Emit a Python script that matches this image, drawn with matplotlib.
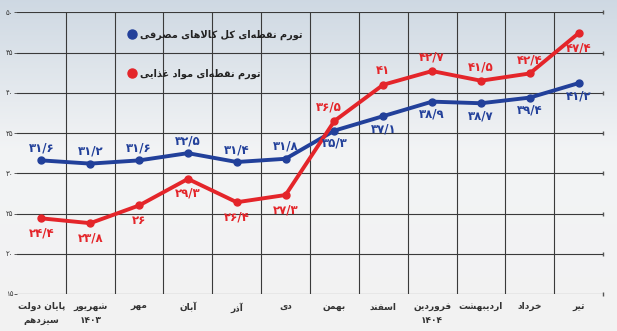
import numpy as np
import matplotlib.pyplot as plt
from matplotlib.lines import Line2D

# ---- data ----
months = ['پایان دولت\nسیزدهم', 'شهریور\n۱۴۰۳', 'مهر', 'آبان', 'آذر', 'دی',
          'بهمن', 'اسفند', 'فروردین\n۱۴۰۴', 'اردیبهشت', 'خرداد', 'تیر']
total_cpi = [31.6, 31.2, 31.6, 32.5, 31.4, 31.8, 35.3, 37.1, 38.9, 38.7, 39.4, 41.2]
food_cpi = [24.4, 23.8, 26.0, 29.3, 26.4, 27.3, 36.5, 41.0, 42.7, 41.5, 42.4, 47.4]
yticks = [15, 20, 25, 30, 35, 40, 45, 50]
legend_total = 'تورم نقطه‌ای کل کالاهای مصرفی'
legend_food = 'تورم نقطه‌ای مواد غذایی'

# ---- tiny arabic shaper (matplotlib has no RTL shaping) ----
# char: (isolated, final, initial, medial); None -> does not join to next
FORMS = {
    'ا': (0xFE8D, 0xFE8E, None, None), 'آ': (0xFE81, 0xFE82, None, None),
    'ب': (0xFE8F, 0xFE90, 0xFE91, 0xFE92), 'پ': (0xFB56, 0xFB57, 0xFB58, 0xFB59),
    'ت': (0xFE95, 0xFE96, 0xFE97, 0xFE98), 'خ': (0xFEA5, 0xFEA6, 0xFEA7, 0xFEA8),
    'د': (0xFEA9, 0xFEAA, None, None), 'ذ': (0xFEAB, 0xFEAC, None, None),
    'ر': (0xFEAD, 0xFEAE, None, None), 'ز': (0xFEAF, 0xFEB0, None, None),
    'س': (0xFEB1, 0xFEB2, 0xFEB3, 0xFEB4), 'ش': (0xFEB5, 0xFEB6, 0xFEB7, 0xFEB8),
    'ص': (0xFEB9, 0xFEBA, 0xFEBB, 0xFEBC), 'ط': (0xFEC1, 0xFEC2, 0xFEC3, 0xFEC4),
    'غ': (0xFECD, 0xFECE, 0xFECF, 0xFED0), 'ف': (0xFED1, 0xFED2, 0xFED3, 0xFED4),
    'ق': (0xFED5, 0xFED6, 0xFED7, 0xFED8), 'ک': (0xFB8E, 0xFB8F, 0xFB90, 0xFB91),
    'ل': (0xFEDD, 0xFEDE, 0xFEDF, 0xFEE0), 'م': (0xFEE1, 0xFEE2, 0xFEE3, 0xFEE4),
    'ن': (0xFEE5, 0xFEE6, 0xFEE7, 0xFEE8), 'ه': (0xFEE9, 0xFEEA, 0xFEEB, 0xFEEC),
    'و': (0xFEED, 0xFEEE, None, None), 'ی': (0xFBFC, 0xFBFD, 0xFBFE, 0xFBFF),
}


def shape_line(s):
    if not any(ch in FORMS for ch in s):
        return s  # digits only, keep left to right
    chars = list(s)
    out = []
    i = 0
    while i < len(chars):
        c = chars[i]
        if c not in FORMS:
            out.append(c)
            i += 1
            continue
        prev = chars[i - 1] if i > 0 else None
        joins_prev = prev in FORMS and FORMS[prev][2] is not None
        # lam-alef ligature
        if c == 'ل' and i + 1 < len(chars) and chars[i + 1] == 'ا':
            out.append(chr(0xFEFC if joins_prev else 0xFEFB))
            i += 2
            continue
        nxt = chars[i + 1] if i + 1 < len(chars) else None
        joins_next = FORMS[c][2] is not None and nxt in FORMS
        f = FORMS[c]
        if joins_prev and joins_next:
            g = f[3]
        elif joins_prev:
            g = f[1]
        elif joins_next:
            g = f[2]
        else:
            g = f[0]
        out.append(chr(g))
        i += 1
    out = [ch for ch in out if ch != '\u200c']
    return ''.join(out[::-1])


def fa(s):
    return '\n'.join(shape_line(line) for line in s.split('\n'))


FA_DIGITS = '۰۱۲۳۴۵۶۷۸۹'


def fa_num(v):
    t = ('%g' % v).replace('.', '/')
    return ''.join(FA_DIGITS[int(ch)] if ch.isdigit() else ch for ch in t)


plt.rcParams['font.family'] = ['DejaVu Sans']
blue = '#22409a'
red = '#e4252a'

fig = plt.figure(figsize=(6.17, 3.31), dpi=100)

# gradient background
bg = fig.add_axes([0, 0, 1, 1], zorder=-1)
top = np.array([0.81, 0.85, 0.89])
mid = np.array([0.95, 0.955, 0.96])
bot = np.array([0.95, 0.95, 0.95])
tt = np.linspace(0, 1, 200)[:, None]
grad = np.where(tt < 0.45, top + (mid - top) * (tt / 0.45), mid + (bot - mid) * ((tt - 0.45) / 0.55))
bg.imshow(grad[:, None, :], aspect='auto', extent=[0, 1, 0, 1])
bg.axis('off')

ax = fig.add_axes([17 / 617, (331 - 294) / 331, 586 / 617, 281.7 / 331])
ax.set_facecolor('none')
x = np.arange(len(months))

ax.set_xlim(-0.5, len(months) - 0.5)
ax.set_ylim(15, 50)
for yv in yticks:
    ax.axhline(yv, color='#3a3a3a', lw=0.8, zorder=1)
for b in np.arange(0.5, len(months) - 1, 1.0):
    ax.axvline(b, color='#3a3a3a', lw=0.8, zorder=1)
ax.plot([len(months) - 0.5] * len(yticks), yticks, ls='none', marker='|',
        ms=3, color='#555555', clip_on=False, zorder=1)

ax.plot(x, total_cpi, color=blue, lw=2.8, marker='o', ms=5, zorder=3)
ax.plot(x, food_cpi, color=red, lw=2.8, marker='o', ms=5, zorder=3)

for i, v in enumerate(total_cpi):
    dy = 9 if i < 6 else -9
    ax.annotate(fa_num(v), (i, v), xytext=(0, dy), textcoords='offset points',
                ha='center', va='center', fontsize=8.5, fontweight='bold', color=blue)
for i, v in enumerate(food_cpi):
    dy = -10.5 if (i < 6 or i == 11) else 10
    dx = -4 if i == 6 else 0
    ax.annotate(fa_num(v), (i, v), xytext=(dx, dy), textcoords='offset points',
                ha='center', va='center', fontsize=8.5, fontweight='bold', color=red)

ax.set_yticks(yticks)
ax.set_yticklabels([fa_num(v) for v in yticks], fontsize=5, color='#333333')
ax.tick_params(axis='y', length=2, width=0.6, pad=0.5, color='#444444')
ax.set_xticks(x)
ax.set_xticklabels([fa(m) for m in months], fontsize=6.5, fontweight='bold',
                   color='#333333', linespacing=1.6, va='top')
ax.tick_params(axis='x', length=0, pad=6)
for s in ax.spines.values():
    s.set_visible(False)

handles = [Line2D([], [], ls='none', marker='o', ms=6.5, color=blue),
           Line2D([], [], ls='none', marker='o', ms=6.5, color=red)]
ax.legend(handles, [fa(legend_total), fa(legend_food)], loc='upper left',
          bbox_to_anchor=(0.175, 0.97), frameon=False, handlelength=0.8,
          handletextpad=0.4, labelspacing=3.0,
          prop={'size': 7, 'weight': 'bold'}, labelcolor='#222222')

fig.savefig('out.png', dpi=100)
